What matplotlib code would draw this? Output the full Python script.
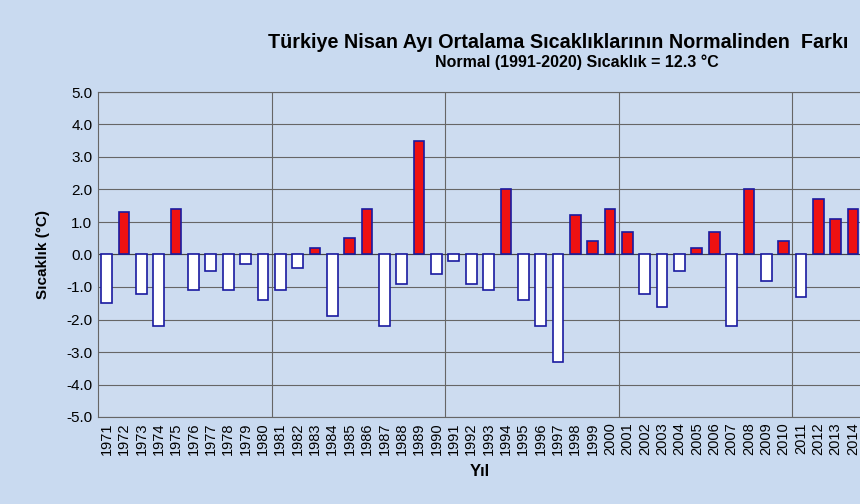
import numpy as np
import matplotlib
matplotlib.use("Agg")
from matplotlib import pyplot as plt

plt.rcParams['font.family'] = ['Liberation Sans', 'DejaVu Sans']

years = list(range(1971, 2015))
anomaly = [-1.5, 1.3, -1.2, -2.2, 1.4, -1.1, -0.5, -1.1, -0.3, -1.4,
           -1.1, -0.4, 0.2, -1.9, 0.5, 1.4, -2.2, -0.9, 3.5, -0.6,
           -0.2, -0.9, -1.1, 2.0, -1.4, -2.2, -3.3, 1.2, 0.4, 1.4,
           0.7, -1.2, -1.6, -0.5, 0.2, 0.7, -2.2, 2.0, -0.8, 0.4,
           -1.3, 1.7, 1.1, 1.4]
yticks = np.arange(-5.0, 5.01, 1.0)

BG = "#c9daf0"
fig = plt.figure(figsize=(8.6, 5.04), dpi=100, facecolor=BG)
ax = fig.add_axes([98 / 860, 1 - 417 / 504, 1 - 98 / 860 + 0.002, 325 / 504])
ax.set_facecolor("#cddcf0")

x = np.arange(len(years))
colors = ["#ee1111" if v > 0 else "white" for v in anomaly]
ax.bar(x, anomaly, width=0.62, color=colors, edgecolor="#1a1aa0", linewidth=1.2, zorder=3)

ax.set_xlim(-0.5, len(years) - 0.5)
ax.set_ylim(-5, 5)
ax.set_yticks(yticks)
ax.set_yticklabels([f"{v:.1f}" for v in yticks], fontsize=11)
ax.yaxis.grid(True, color="#666666", linewidth=0.8, zorder=0)
for b in [9.5, 19.5, 29.5, 39.5]:
    ax.axvline(b, color="#666666", linewidth=0.8, zorder=0)
ax.axhline(0, color="#444444", linewidth=0.8, zorder=2)
ax.set_xticks(x)
ax.set_xticklabels([str(y) for y in years], rotation=90, fontsize=10.5)
ax.tick_params(length=0, pad=4)
for s in ax.spines.values():
    s.set_color("#666666")

ax.set_ylabel("Sıcaklık (°C)", fontsize=11, fontweight="bold", labelpad=12)
ax.set_xlabel("Yıl", fontsize=12, fontweight="bold", labelpad=6)

fig.text(848 / 860, 1 - 42 / 504, "Türkiye Nisan Ayı Ortalama Sıcaklıklarının Normalinden  Farkı",
         ha="right", va="center", fontsize=14.2, fontweight="bold")
fig.text(577 / 860, 1 - 62 / 504, "Normal (1991-2020) Sıcaklık = 12.3 °C",
         ha="center", va="center", fontsize=11.5, fontweight="bold")

fig.savefig("out.png", dpi=100, facecolor=BG)
